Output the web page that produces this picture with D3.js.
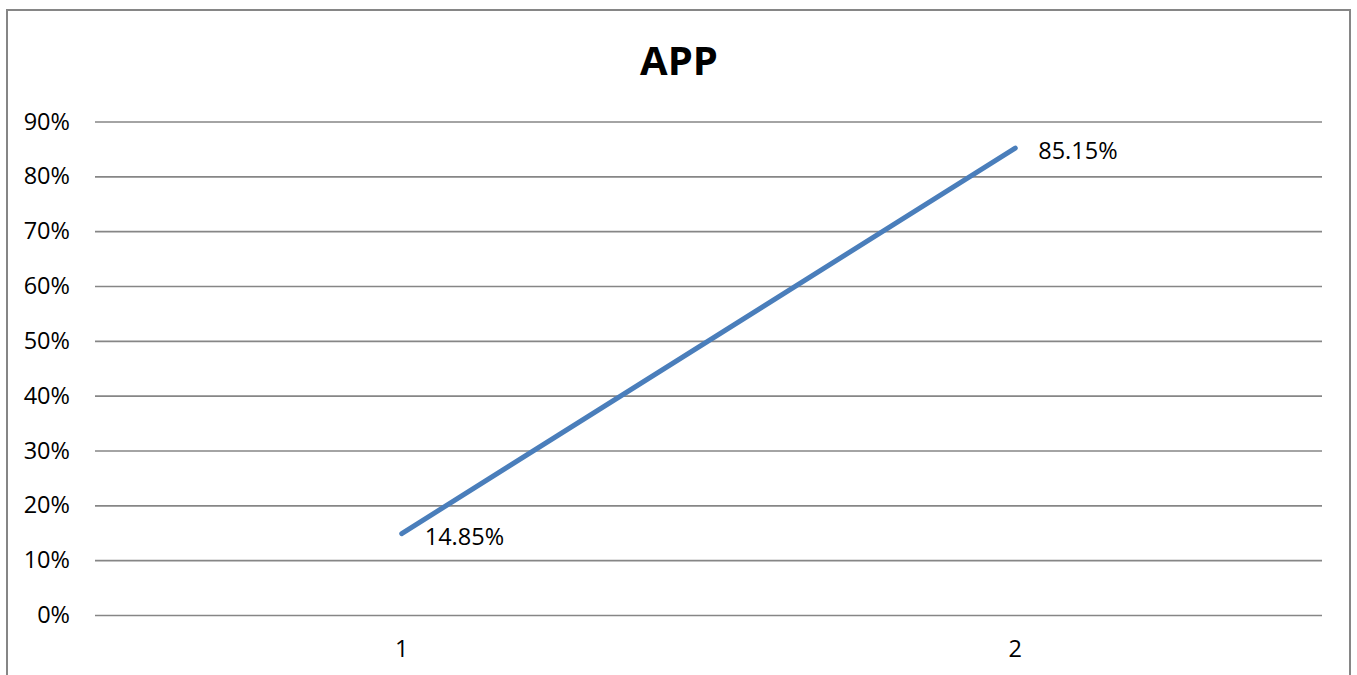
<!DOCTYPE html>
<html>
<head>
<meta charset="utf-8">
<script src="https://cdn.jsdelivr.net/npm/d3@7"></script>
<style>
  html, body { margin: 0; padding: 0; background: #fff; }
  svg { display: block; }
  text { font-family: "Open Sans", "Noto Sans", sans-serif; fill: #000; }
</style>
</head>
<body>
<svg id="chart" width="1357" height="675"></svg>
<script>
// Series data
const chartTitle = "APP";
const categories = ["1", "2"];
const values = [0.1485, 0.8515];
const yTicks = [0, 0.1, 0.2, 0.3, 0.4, 0.5, 0.6, 0.7, 0.8, 0.9];

const W = 1357, H = 675;
const plot = { left: 95, right: 1322, top: 121.5, bottom: 615 };

const svg = d3.select("#chart");

// Outer chart frame
svg.append("rect")
  .attr("x", 7).attr("y", 10)
  .attr("width", 1343).attr("height", 700)
  .attr("fill", "#fff")
  .attr("stroke", "#868686")
  .attr("stroke-width", 2);

const x = d3.scaleBand()
  .domain(categories)
  .range([plot.left, plot.right]);

const y = d3.scaleLinear()
  .domain([0, 0.9])
  .range([plot.bottom, plot.top]);

// Horizontal gridlines + y tick labels
const yAxis = d3.axisLeft(y)
  .tickValues(yTicks)
  .tickFormat(d3.format(".0%"))
  .tickSize(-(plot.right - plot.left))
  .tickPadding(25);

const gy = svg.append("g")
  .attr("transform", `translate(${plot.left},0)`)
  .call(yAxis);
gy.select(".domain").remove();
gy.selectAll(".tick line")
  .attr("stroke", "#868686")
  .attr("stroke-width", 1.7);
gy.selectAll(".tick text")
  .attr("font-size", 23.5)
  .attr("fill", "#000")
  .style("font-family", "'Open Sans', sans-serif");

// Category labels
const xAxis = d3.axisBottom(x).tickSize(0).tickPadding(25);
const gx = svg.append("g")
  .attr("transform", `translate(0,${plot.bottom})`)
  .call(xAxis);
gx.select(".domain").remove();
gx.selectAll(".tick text")
  .attr("font-size", 23.5)
  .attr("fill", "#000")
  .style("font-family", "'Open Sans', sans-serif");

// Line series
const pts = categories.map((c, i) => ({ c, v: values[i] }));
const line = d3.line()
  .x(d => x(d.c) + x.bandwidth() / 2)
  .y(d => y(d.v));

svg.append("path")
  .datum(pts)
  .attr("d", line)
  .attr("fill", "none")
  .attr("stroke", "#4a7ebb")
  .attr("stroke-width", 5)
  .attr("stroke-linecap", "round")
  .attr("stroke-linejoin", "round");

// Data labels to the right of each point
const fmt = d3.format(".2%");
svg.selectAll(".dlabel")
  .data(pts)
  .join("text")
  .attr("class", "dlabel")
  .attr("x", d => x(d.c) + x.bandwidth() / 2 + 23)
  .attr("y", d => y(d.v) + 2)
  .attr("dominant-baseline", "central")
  .attr("font-size", 23.5)
  .text(d => fmt(d.v));

// Title
svg.append("text")
  .attr("x", 679)
  .attr("y", 75)
  .attr("text-anchor", "middle")
  .attr("font-size", 40)
  .attr("font-weight", "bold")
  .text(chartTitle);
</script>
</body>
</html>
